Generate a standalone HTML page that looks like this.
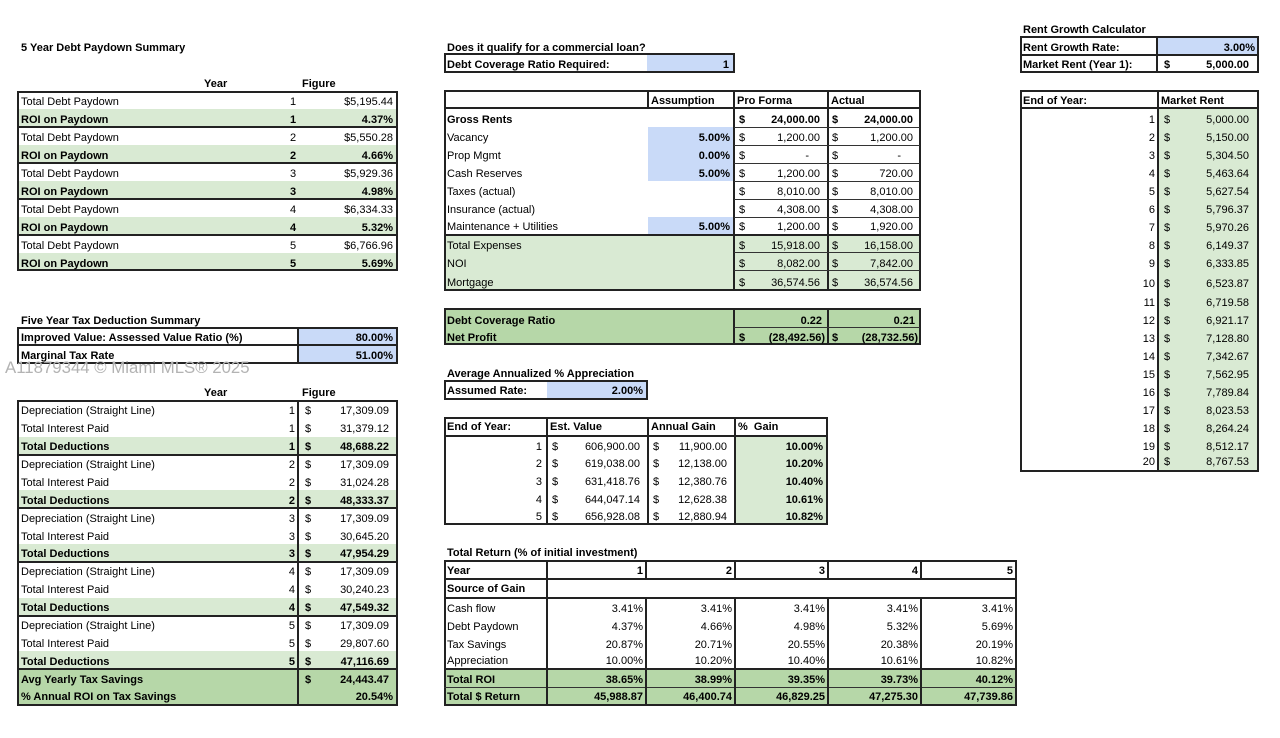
<!DOCTYPE html>
<html><head><meta charset="utf-8">
<style>
html,body{margin:0;padding:0;background:#fff;}
body{position:relative;width:1280px;height:738px;overflow:hidden;font-family:"Liberation Sans",Arial,sans-serif;font-size:11px;color:#000;}
.t{position:absolute;height:20px;line-height:20px;white-space:nowrap;}
.B{font-weight:bold;}
.f{position:absolute;}
.g{background:#d9ead3;}
.G{background:#b6d7a8;}
.u{background:#c9daf8;}
.bx{position:absolute;border:2px solid #222;box-sizing:border-box;}
.h{position:absolute;height:2px;background:#222;}
.h1{position:absolute;height:1px;background:#333;}
.v{position:absolute;width:2px;background:#222;}
.v1{position:absolute;width:1px;background:#333;}
.wm{position:absolute;left:5px;top:358px;height:20px;line-height:20px;font-size:16.8px;color:#b3b3b3;white-space:nowrap;}
</style></head><body>

<!-- ================= LEFT ================= -->
<div class="t B" style="left:21px;top:38px">5 Year Debt Paydown Summary</div>
<div class="t B" style="left:204px;top:74px">Year</div>
<div class="t B" style="left:302px;top:74px">Figure</div>

<div class="f g" style="left:17px;top:109px;width:380px;height:18px"></div>
<div class="f g" style="left:17px;top:145px;width:380px;height:18px"></div>
<div class="f g" style="left:17px;top:181px;width:380px;height:18px"></div>
<div class="f g" style="left:17px;top:217px;width:380px;height:18px"></div>
<div class="f g" style="left:17px;top:253px;width:380px;height:17px"></div>
<div class="bx" style="left:17px;top:91px;width:381px;height:180px"></div>
<div class="h" style="left:17px;top:126px;width:380px"></div>
<div class="h" style="left:17px;top:162px;width:380px"></div>
<div class="h" style="left:17px;top:198px;width:380px"></div>
<div class="h" style="left:17px;top:234px;width:380px"></div>

<div class="t" style="left:21px;top:92px">Total Debt Paydown</div><div class="t" style="left:283px;top:92px;width:20px;text-align:center">1</div><div class="t" style="right:887px;top:92px">$5,195.44</div>
<div class="t B" style="left:21px;top:110px">ROI on Paydown</div><div class="t B" style="left:283px;top:110px;width:20px;text-align:center">1</div><div class="t B" style="right:887px;top:110px">4.37%</div>
<div class="t" style="left:21px;top:128px">Total Debt Paydown</div><div class="t" style="left:283px;top:128px;width:20px;text-align:center">2</div><div class="t" style="right:887px;top:128px">$5,550.28</div>
<div class="t B" style="left:21px;top:146px">ROI on Paydown</div><div class="t B" style="left:283px;top:146px;width:20px;text-align:center">2</div><div class="t B" style="right:887px;top:146px">4.66%</div>
<div class="t" style="left:21px;top:164px">Total Debt Paydown</div><div class="t" style="left:283px;top:164px;width:20px;text-align:center">3</div><div class="t" style="right:887px;top:164px">$5,929.36</div>
<div class="t B" style="left:21px;top:182px">ROI on Paydown</div><div class="t B" style="left:283px;top:182px;width:20px;text-align:center">3</div><div class="t B" style="right:887px;top:182px">4.98%</div>
<div class="t" style="left:21px;top:200px">Total Debt Paydown</div><div class="t" style="left:283px;top:200px;width:20px;text-align:center">4</div><div class="t" style="right:887px;top:200px">$6,334.33</div>
<div class="t B" style="left:21px;top:218px">ROI on Paydown</div><div class="t B" style="left:283px;top:218px;width:20px;text-align:center">4</div><div class="t B" style="right:887px;top:218px">5.32%</div>
<div class="t" style="left:21px;top:236px">Total Debt Paydown</div><div class="t" style="left:283px;top:236px;width:20px;text-align:center">5</div><div class="t" style="right:887px;top:236px">$6,766.96</div>
<div class="t B" style="left:21px;top:254px">ROI on Paydown</div><div class="t B" style="left:283px;top:254px;width:20px;text-align:center">5</div><div class="t B" style="right:887px;top:254px">5.69%</div>

<div class="t B" style="left:21px;top:311px">Five Year Tax Deduction Summary</div>
<div class="f u" style="left:298px;top:327px;width:99px;height:36px"></div>
<div class="bx" style="left:17px;top:327px;width:381px;height:37px"></div>
<div class="h" style="left:17px;top:344px;width:380px"></div>
<div class="v" style="left:297px;top:327px;height:37px"></div>
<div class="t B" style="left:21px;top:328px">Improved Value: Assessed Value Ratio (%)</div><div class="t B" style="right:887px;top:328px">80.00%</div>
<div class="t B" style="left:21px;top:346px">Marginal Tax Rate</div><div class="t B" style="right:887px;top:346px">51.00%</div>
<div class="wm">A11879344 © Miami MLS® 2025</div>

<div class="t B" style="left:204px;top:383px">Year</div>
<div class="t B" style="left:302px;top:383px">Figure</div>

<div class="f g" style="left:17px;top:437px;width:380px;height:18px"></div>
<div class="f g" style="left:17px;top:490px;width:380px;height:18px"></div>
<div class="f g" style="left:17px;top:544px;width:380px;height:18px"></div>
<div class="f g" style="left:17px;top:598px;width:380px;height:18px"></div>
<div class="f g" style="left:17px;top:651px;width:380px;height:18px"></div>
<div class="f G" style="left:17px;top:669px;width:380px;height:36px"></div>
<div class="bx" style="left:17px;top:400px;width:381px;height:306px"></div>
<div class="v" style="left:297px;top:400px;height:305px"></div>
<div class="h" style="left:17px;top:454px;width:380px"></div>
<div class="h" style="left:17px;top:507px;width:380px"></div>
<div class="h" style="left:17px;top:561px;width:380px"></div>
<div class="h" style="left:17px;top:615px;width:380px"></div>
<div class="h" style="left:17px;top:668px;width:380px"></div>

<div class="t" style="left:21px;top:401px">Depreciation (Straight Line)</div><div class="t" style="right:985px;top:401px">1</div><div class="t" style="left:305px;top:401px">$</div><div class="t" style="right:891px;top:401px">17,309.09</div>
<div class="t" style="left:21px;top:419px">Total Interest Paid</div><div class="t" style="right:985px;top:419px">1</div><div class="t" style="left:305px;top:419px">$</div><div class="t" style="right:891px;top:419px">31,379.12</div>
<div class="t B" style="left:21px;top:437px">Total Deductions</div><div class="t B" style="right:985px;top:437px">1</div><div class="t B" style="left:305px;top:437px">$</div><div class="t B" style="right:891px;top:437px">48,688.22</div>

<div class="t" style="left:21px;top:455px">Depreciation (Straight Line)</div><div class="t" style="right:985px;top:455px">2</div><div class="t" style="left:305px;top:455px">$</div><div class="t" style="right:891px;top:455px">17,309.09</div>
<div class="t" style="left:21px;top:473px">Total Interest Paid</div><div class="t" style="right:985px;top:473px">2</div><div class="t" style="left:305px;top:473px">$</div><div class="t" style="right:891px;top:473px">31,024.28</div>
<div class="t B" style="left:21px;top:491px">Total Deductions</div><div class="t B" style="right:985px;top:491px">2</div><div class="t B" style="left:305px;top:491px">$</div><div class="t B" style="right:891px;top:491px">48,333.37</div>

<div class="t" style="left:21px;top:509px">Depreciation (Straight Line)</div><div class="t" style="right:985px;top:509px">3</div><div class="t" style="left:305px;top:509px">$</div><div class="t" style="right:891px;top:509px">17,309.09</div>
<div class="t" style="left:21px;top:527px">Total Interest Paid</div><div class="t" style="right:985px;top:527px">3</div><div class="t" style="left:305px;top:527px">$</div><div class="t" style="right:891px;top:527px">30,645.20</div>
<div class="t B" style="left:21px;top:544px">Total Deductions</div><div class="t B" style="right:985px;top:544px">3</div><div class="t B" style="left:305px;top:544px">$</div><div class="t B" style="right:891px;top:544px">47,954.29</div>

<div class="t" style="left:21px;top:562px">Depreciation (Straight Line)</div><div class="t" style="right:985px;top:562px">4</div><div class="t" style="left:305px;top:562px">$</div><div class="t" style="right:891px;top:562px">17,309.09</div>
<div class="t" style="left:21px;top:580px">Total Interest Paid</div><div class="t" style="right:985px;top:580px">4</div><div class="t" style="left:305px;top:580px">$</div><div class="t" style="right:891px;top:580px">30,240.23</div>
<div class="t B" style="left:21px;top:598px">Total Deductions</div><div class="t B" style="right:985px;top:598px">4</div><div class="t B" style="left:305px;top:598px">$</div><div class="t B" style="right:891px;top:598px">47,549.32</div>

<div class="t" style="left:21px;top:616px">Depreciation (Straight Line)</div><div class="t" style="right:985px;top:616px">5</div><div class="t" style="left:305px;top:616px">$</div><div class="t" style="right:891px;top:616px">17,309.09</div>
<div class="t" style="left:21px;top:634px">Total Interest Paid</div><div class="t" style="right:985px;top:634px">5</div><div class="t" style="left:305px;top:634px">$</div><div class="t" style="right:891px;top:634px">29,807.60</div>
<div class="t B" style="left:21px;top:652px">Total Deductions</div><div class="t B" style="right:985px;top:652px">5</div><div class="t B" style="left:305px;top:652px">$</div><div class="t B" style="right:891px;top:652px">47,116.69</div>

<div class="t B" style="left:21px;top:670px">Avg Yearly Tax Savings</div><div class="t B" style="left:305px;top:670px">$</div><div class="t B" style="right:891px;top:670px">24,443.47</div>
<div class="t B" style="left:21px;top:687px">% Annual ROI on Tax Savings</div><div class="t B" style="right:887px;top:687px">20.54%</div>

<!-- ================= MIDDLE ================= -->
<div class="t B" style="left:447px;top:38px">Does it qualify for a commercial loan?</div>
<div class="f u" style="left:647px;top:54px;width:87px;height:18px"></div>
<div class="bx" style="left:444px;top:53px;width:291px;height:20px"></div>
<div class="t B" style="left:447px;top:55px">Debt Coverage Ratio Required:</div>
<div class="t B" style="right:551px;top:55px">1</div>

<!-- main table -->
<div class="f u" style="left:648px;top:127px;width:85px;height:54px"></div>
<div class="f u" style="left:648px;top:217px;width:85px;height:17px"></div>
<div class="f g" style="left:444px;top:235px;width:476px;height:55px"></div>
<div class="bx" style="left:444px;top:90px;width:477px;height:201px"></div>
<div class="h" style="left:444px;top:107px;width:476px"></div>
<div class="v" style="left:647px;top:90px;height:18px"></div>
<div class="v" style="left:733px;top:90px;height:200px"></div>
<div class="v" style="left:827px;top:90px;height:200px"></div>
<div class="h1" style="left:734px;top:127px;width:186px"></div>
<div class="h1" style="left:734px;top:145px;width:186px"></div>
<div class="h1" style="left:734px;top:163px;width:186px"></div>
<div class="h1" style="left:734px;top:181px;width:186px"></div>
<div class="h1" style="left:734px;top:199px;width:186px"></div>
<div class="h1" style="left:734px;top:217px;width:186px"></div>
<div class="h" style="left:444px;top:234px;width:476px"></div>
<div class="h1" style="left:734px;top:252px;width:186px"></div>
<div class="h1" style="left:734px;top:270px;width:186px"></div>

<div class="t B" style="left:651px;top:91px">Assumption</div>
<div class="t B" style="left:737px;top:91px">Pro Forma</div>
<div class="t B" style="left:831px;top:91px">Actual</div>

<div class="t B" style="left:447px;top:110px">Gross Rents</div>
<div class="t B" style="left:739px;top:110px">$</div><div class="t B" style="right:460px;top:110px">24,000.00</div>
<div class="t B" style="left:832px;top:110px">$</div><div class="t B" style="right:367px;top:110px">24,000.00</div>

<div class="t" style="left:447px;top:128px">Vacancy</div><div class="t B" style="right:550px;top:128px">5.00%</div>
<div class="t" style="left:739px;top:128px">$</div><div class="t" style="right:460px;top:128px">1,200.00</div>
<div class="t" style="left:832px;top:128px">$</div><div class="t" style="right:367px;top:128px">1,200.00</div>

<div class="t" style="left:447px;top:146px">Prop Mgmt</div><div class="t B" style="right:550px;top:146px">0.00%</div>
<div class="t" style="left:739px;top:146px">$</div><div class="t" style="right:471px;top:146px">-</div>
<div class="t" style="left:832px;top:146px">$</div><div class="t" style="right:379px;top:146px">-</div>

<div class="t" style="left:447px;top:164px">Cash Reserves</div><div class="t B" style="right:550px;top:164px">5.00%</div>
<div class="t" style="left:739px;top:164px">$</div><div class="t" style="right:460px;top:164px">1,200.00</div>
<div class="t" style="left:832px;top:164px">$</div><div class="t" style="right:367px;top:164px">720.00</div>

<div class="t" style="left:447px;top:182px">Taxes (actual)</div>
<div class="t" style="left:739px;top:182px">$</div><div class="t" style="right:460px;top:182px">8,010.00</div>
<div class="t" style="left:832px;top:182px">$</div><div class="t" style="right:367px;top:182px">8,010.00</div>

<div class="t" style="left:447px;top:200px">Insurance (actual)</div>
<div class="t" style="left:739px;top:200px">$</div><div class="t" style="right:460px;top:200px">4,308.00</div>
<div class="t" style="left:832px;top:200px">$</div><div class="t" style="right:367px;top:200px">4,308.00</div>

<div class="t" style="left:447px;top:217px">Maintenance + Utilities</div><div class="t B" style="right:550px;top:217px">5.00%</div>
<div class="t" style="left:739px;top:217px">$</div><div class="t" style="right:460px;top:217px">1,200.00</div>
<div class="t" style="left:832px;top:217px">$</div><div class="t" style="right:367px;top:217px">1,920.00</div>

<div class="t" style="left:447px;top:236px">Total Expenses</div>
<div class="t" style="left:739px;top:236px">$</div><div class="t" style="right:460px;top:236px">15,918.00</div>
<div class="t" style="left:832px;top:236px">$</div><div class="t" style="right:367px;top:236px">16,158.00</div>

<div class="t" style="left:447px;top:254px">NOI</div>
<div class="t" style="left:739px;top:254px">$</div><div class="t" style="right:460px;top:254px">8,082.00</div>
<div class="t" style="left:832px;top:254px">$</div><div class="t" style="right:367px;top:254px">7,842.00</div>

<div class="t" style="left:447px;top:273px">Mortgage</div>
<div class="t" style="left:739px;top:273px">$</div><div class="t" style="right:460px;top:273px">36,574.56</div>
<div class="t" style="left:832px;top:273px">$</div><div class="t" style="right:367px;top:273px">36,574.56</div>

<!-- DCR -->
<div class="f G" style="left:444px;top:308px;width:477px;height:37px"></div>
<div class="bx" style="left:444px;top:308px;width:477px;height:37px"></div>
<div class="v" style="left:733px;top:308px;height:37px"></div>
<div class="v" style="left:827px;top:308px;height:37px"></div>
<div class="h1" style="left:734px;top:327px;width:186px"></div>
<div class="t B" style="left:447px;top:311px">Debt Coverage Ratio</div>
<div class="t B" style="right:458px;top:311px">0.22</div>
<div class="t B" style="right:365px;top:311px">0.21</div>
<div class="t B" style="left:447px;top:328px">Net Profit</div>
<div class="t B" style="left:739px;top:328px">$</div><div class="t B" style="right:455px;top:328px">(28,492.56)</div>
<div class="t B" style="left:832px;top:328px">$</div><div class="t B" style="right:362px;top:328px">(28,732.56)</div>

<!-- Appreciation -->
<div class="t B" style="left:447px;top:364px">Average Annualized % Appreciation</div>
<div class="f u" style="left:547px;top:381px;width:100px;height:18px"></div>
<div class="bx" style="left:444px;top:380px;width:204px;height:20px"></div>
<div class="t B" style="left:447px;top:381px">Assumed Rate:</div>
<div class="t B" style="right:637px;top:381px">2.00%</div>

<div class="f g" style="left:735px;top:436px;width:92px;height:88px"></div>
<div class="bx" style="left:444px;top:417px;width:384px;height:108px"></div>
<div class="h" style="left:444px;top:435px;width:384px"></div>
<div class="v" style="left:546px;top:417px;height:107px"></div>
<div class="v" style="left:647px;top:417px;height:107px"></div>
<div class="v" style="left:734px;top:417px;height:107px"></div>
<div class="t B" style="left:447px;top:417px">End of Year:</div>
<div class="t B" style="left:550px;top:417px">Est. Value</div>
<div class="t B" style="left:651px;top:417px">Annual Gain</div>
<div class="t B" style="left:738px;top:417px">%&nbsp; Gain</div>

<div class="t" style="right:738px;top:437px">1</div><div class="t" style="left:552px;top:437px">$</div><div class="t" style="right:640px;top:437px">606,900.00</div><div class="t" style="left:653px;top:437px">$</div><div class="t" style="right:553px;top:437px">11,900.00</div><div class="t B" style="right:457px;top:437px">10.00%</div>
<div class="t" style="right:738px;top:454px">2</div><div class="t" style="left:552px;top:454px">$</div><div class="t" style="right:640px;top:454px">619,038.00</div><div class="t" style="left:653px;top:454px">$</div><div class="t" style="right:553px;top:454px">12,138.00</div><div class="t B" style="right:457px;top:454px">10.20%</div>
<div class="t" style="right:738px;top:472px">3</div><div class="t" style="left:552px;top:472px">$</div><div class="t" style="right:640px;top:472px">631,418.76</div><div class="t" style="left:653px;top:472px">$</div><div class="t" style="right:553px;top:472px">12,380.76</div><div class="t B" style="right:457px;top:472px">10.40%</div>
<div class="t" style="right:738px;top:490px">4</div><div class="t" style="left:552px;top:490px">$</div><div class="t" style="right:640px;top:490px">644,047.14</div><div class="t" style="left:653px;top:490px">$</div><div class="t" style="right:553px;top:490px">12,628.38</div><div class="t B" style="right:457px;top:490px">10.61%</div>
<div class="t" style="right:738px;top:507px">5</div><div class="t" style="left:552px;top:507px">$</div><div class="t" style="right:640px;top:507px">656,928.08</div><div class="t" style="left:653px;top:507px">$</div><div class="t" style="right:553px;top:507px">12,880.94</div><div class="t B" style="right:457px;top:507px">10.82%</div>

<!-- Total Return -->
<div class="t B" style="left:447px;top:543px">Total Return (% of initial investment)</div>
<div class="f G" style="left:444px;top:669px;width:572px;height:36px"></div>
<div class="bx" style="left:444px;top:560px;width:573px;height:146px"></div>
<div class="h" style="left:444px;top:578px;width:572px"></div>
<div class="h" style="left:444px;top:597px;width:572px"></div>
<div class="h" style="left:444px;top:668px;width:572px"></div>
<div class="h1" style="left:444px;top:687px;width:572px"></div>
<div class="v" style="left:546px;top:560px;height:145px"></div>
<div class="v" style="left:645px;top:560px;height:19px"></div>
<div class="v" style="left:734px;top:560px;height:19px"></div>
<div class="v" style="left:827px;top:560px;height:19px"></div>
<div class="v" style="left:920px;top:560px;height:19px"></div>
<div class="v" style="left:645px;top:597px;height:108px"></div>
<div class="v" style="left:734px;top:597px;height:108px"></div>
<div class="v" style="left:827px;top:597px;height:108px"></div>
<div class="v" style="left:920px;top:597px;height:108px"></div>

<div class="t B" style="left:447px;top:561px">Year</div>
<div class="t B" style="right:637px;top:561px">1</div><div class="t B" style="right:548px;top:561px">2</div><div class="t B" style="right:455px;top:561px">3</div><div class="t B" style="right:362px;top:561px">4</div><div class="t B" style="right:267px;top:561px">5</div>
<div class="t B" style="left:447px;top:579px">Source of Gain</div>

<div class="t" style="left:447px;top:599px">Cash flow</div>
<div class="t" style="right:637px;top:599px">3.41%</div><div class="t" style="right:548px;top:599px">3.41%</div><div class="t" style="right:455px;top:599px">3.41%</div><div class="t" style="right:362px;top:599px">3.41%</div><div class="t" style="right:267px;top:599px">3.41%</div>
<div class="t" style="left:447px;top:617px">Debt Paydown</div>
<div class="t" style="right:637px;top:617px">4.37%</div><div class="t" style="right:548px;top:617px">4.66%</div><div class="t" style="right:455px;top:617px">4.98%</div><div class="t" style="right:362px;top:617px">5.32%</div><div class="t" style="right:267px;top:617px">5.69%</div>
<div class="t" style="left:447px;top:635px">Tax Savings</div>
<div class="t" style="right:637px;top:635px">20.87%</div><div class="t" style="right:548px;top:635px">20.71%</div><div class="t" style="right:455px;top:635px">20.55%</div><div class="t" style="right:362px;top:635px">20.38%</div><div class="t" style="right:267px;top:635px">20.19%</div>
<div class="t" style="left:447px;top:651px">Appreciation</div>
<div class="t" style="right:637px;top:651px">10.00%</div><div class="t" style="right:548px;top:651px">10.20%</div><div class="t" style="right:455px;top:651px">10.40%</div><div class="t" style="right:362px;top:651px">10.61%</div><div class="t" style="right:267px;top:651px">10.82%</div>
<div class="t B" style="left:447px;top:670px">Total ROI</div>
<div class="t B" style="right:637px;top:670px">38.65%</div><div class="t B" style="right:548px;top:670px">38.99%</div><div class="t B" style="right:455px;top:670px">39.35%</div><div class="t B" style="right:362px;top:670px">39.73%</div><div class="t B" style="right:267px;top:670px">40.12%</div>
<div class="t B" style="left:447px;top:687px">Total $ Return</div>
<div class="t B" style="right:637px;top:687px">45,988.87</div><div class="t B" style="right:548px;top:687px">46,400.74</div><div class="t B" style="right:455px;top:687px">46,829.25</div><div class="t B" style="right:362px;top:687px">47,275.30</div><div class="t B" style="right:267px;top:687px">47,739.86</div>

<!-- ================= RIGHT ================= -->
<div class="t B" style="left:1023px;top:20px">Rent Growth Calculator</div>
<div class="f u" style="left:1157px;top:37px;width:101px;height:18px"></div>
<div class="bx" style="left:1020px;top:36px;width:239px;height:37px"></div>
<div class="h" style="left:1020px;top:54px;width:238px"></div>
<div class="v" style="left:1156px;top:36px;height:37px"></div>
<div class="t B" style="left:1023px;top:38px">Rent Growth Rate:</div>
<div class="t B" style="right:25px;top:38px">3.00%</div>
<div class="t B" style="left:1023px;top:55px">Market Rent (Year 1):</div>
<div class="t B" style="left:1164px;top:55px">$</div>
<div class="t B" style="right:31px;top:55px">5,000.00</div>

<div class="f g" style="left:1158px;top:109px;width:100px;height:362px"></div>
<div class="bx" style="left:1020px;top:90px;width:239px;height:382px"></div>
<div class="h" style="left:1020px;top:107px;width:238px"></div>
<div class="v" style="left:1157px;top:90px;height:381px"></div>
<div class="t B" style="left:1023px;top:91px">End of Year:</div>
<div class="t B" style="left:1161px;top:91px">Market Rent</div>

<div class="t" style="right:125px;top:110px">1</div><div class="t" style="left:1164px;top:110px">$</div><div class="t" style="right:31px;top:110px">5,000.00</div>
<div class="t" style="right:125px;top:128px">2</div><div class="t" style="left:1164px;top:128px">$</div><div class="t" style="right:31px;top:128px">5,150.00</div>
<div class="t" style="right:125px;top:146px">3</div><div class="t" style="left:1164px;top:146px">$</div><div class="t" style="right:31px;top:146px">5,304.50</div>
<div class="t" style="right:125px;top:164px">4</div><div class="t" style="left:1164px;top:164px">$</div><div class="t" style="right:31px;top:164px">5,463.64</div>
<div class="t" style="right:125px;top:182px">5</div><div class="t" style="left:1164px;top:182px">$</div><div class="t" style="right:31px;top:182px">5,627.54</div>
<div class="t" style="right:125px;top:200px">6</div><div class="t" style="left:1164px;top:200px">$</div><div class="t" style="right:31px;top:200px">5,796.37</div>
<div class="t" style="right:125px;top:218px">7</div><div class="t" style="left:1164px;top:218px">$</div><div class="t" style="right:31px;top:218px">5,970.26</div>
<div class="t" style="right:125px;top:236px">8</div><div class="t" style="left:1164px;top:236px">$</div><div class="t" style="right:31px;top:236px">6,149.37</div>
<div class="t" style="right:125px;top:254px">9</div><div class="t" style="left:1164px;top:254px">$</div><div class="t" style="right:31px;top:254px">6,333.85</div>
<div class="t" style="right:125px;top:274px">10</div><div class="t" style="left:1164px;top:274px">$</div><div class="t" style="right:31px;top:274px">6,523.87</div>
<div class="t" style="right:125px;top:293px">11</div><div class="t" style="left:1164px;top:293px">$</div><div class="t" style="right:31px;top:293px">6,719.58</div>
<div class="t" style="right:125px;top:311px">12</div><div class="t" style="left:1164px;top:311px">$</div><div class="t" style="right:31px;top:311px">6,921.17</div>
<div class="t" style="right:125px;top:329px">13</div><div class="t" style="left:1164px;top:329px">$</div><div class="t" style="right:31px;top:329px">7,128.80</div>
<div class="t" style="right:125px;top:347px">14</div><div class="t" style="left:1164px;top:347px">$</div><div class="t" style="right:31px;top:347px">7,342.67</div>
<div class="t" style="right:125px;top:365px">15</div><div class="t" style="left:1164px;top:365px">$</div><div class="t" style="right:31px;top:365px">7,562.95</div>
<div class="t" style="right:125px;top:383px">16</div><div class="t" style="left:1164px;top:383px">$</div><div class="t" style="right:31px;top:383px">7,789.84</div>
<div class="t" style="right:125px;top:401px">17</div><div class="t" style="left:1164px;top:401px">$</div><div class="t" style="right:31px;top:401px">8,023.53</div>
<div class="t" style="right:125px;top:419px">18</div><div class="t" style="left:1164px;top:419px">$</div><div class="t" style="right:31px;top:419px">8,264.24</div>
<div class="t" style="right:125px;top:437px">19</div><div class="t" style="left:1164px;top:437px">$</div><div class="t" style="right:31px;top:437px">8,512.17</div>
<div class="t" style="right:125px;top:452px">20</div><div class="t" style="left:1164px;top:452px">$</div><div class="t" style="right:31px;top:452px">8,767.53</div>

</body></html>
